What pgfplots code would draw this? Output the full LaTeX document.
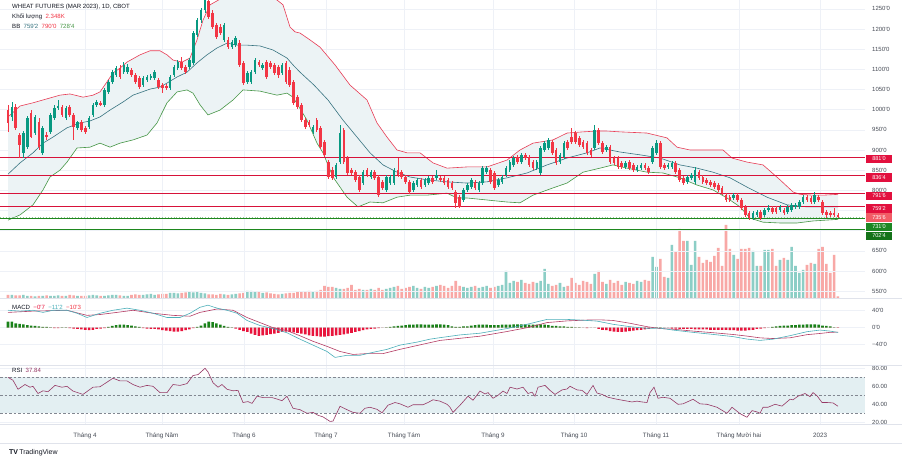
\documentclass[border=0pt]{standalone}
\usepackage{pgfplots}
\pgfplotsset{compat=1.18}
\usepackage{pgfplotstable}
\usepackage{fontspec}
\setmainfont{Liberation Sans}[Ligatures=TeXOff]
\definecolor{upc}{RGB}{8,153,129}
\definecolor{dnc}{RGB}{242,54,69}
\definecolor{volup}{RGB}{140,206,198}
\definecolor{voldn}{RGB}{248,168,166}
\definecolor{bbup}{RGB}{232,60,85}
\definecolor{bbmid}{RGB}{55,115,128}
\definecolor{bblo}{RGB}{70,150,70}
\definecolor{bbfill}{RGB}{236,243,245}
\definecolor{lvred}{RGB}{215,18,58}
\definecolor{lvgreen}{RGB}{30,135,30}
\definecolor{gridc}{RGB}{238,241,247}
\definecolor{txt}{RGB}{19,23,34}
\definecolor{axtxt}{RGB}{70,75,85}
\definecolor{macdl}{RGB}{75,175,185}
\definecolor{sigl}{RGB}{180,60,100}
\definecolor{histg}{RGB}{25,130,25}
\definecolor{histr}{RGB}{232,20,60}
\definecolor{rsil}{RGB}{150,55,100}
\definecolor{rsifill}{RGB}{227,239,242}
\definecolor{rsidash}{RGB}{130,135,145}
\definecolor{sepc}{RGB}{224,227,235}
\definecolor{boxred}{RGB}{226,16,62}
\definecolor{boxlred}{RGB}{242,92,102}
\definecolor{boxgreen}{RGB}{28,135,35}
\definecolor{boxdgreen}{RGB}{20,115,25}
\newcommand{\sz}{\fontsize{6}{7}\selectfont}
\pgfplotsset{
  base/.style={scale only axis, width=865bp, xmin=0, xmax=865, anchor=south west,
    axis line style={draw=none}, tick style={draw=none},
    xtick={85,162,244,326,404,493,574,656,739,820},
    grid=major, grid style={gridc, line width=0.5bp},
    yticklabel pos=right,
    yticklabel style={anchor=west, inner sep=0pt, xshift=7bp, font=\sz, text=axtxt},
    xticklabel style={font=\fontsize{6.3}{7}\selectfont, text=axtxt, anchor=north, inner sep=0pt, yshift=-8.5bp}},
  candle/.style={draw=none, mark=none, forget plot, error bars/.cd, y dir=both, y explicit, error mark=none, error bar style={draw=#1, solid}},
  level/.style={draw=#1, color=#1, line width=1bp, forget plot},
}
\pgfplotstableread{
o h l c v u
999 1012 945 967 4.5 0
982 1019 972 1007 4.5 1
1007 1014 950 955 3.8 0
937 942 880 912 3.8 0
893 947 880 942 4.5 1
907 984 902 979 3 1
992 999 930 932 3 0
942 987 937 982 2.3 1
969 979 900 907 3 0
893 960 888 955 3 1
937 945 925 932 3.8 0
945 992 940 987 3 1
979 1012 974 1004 3 1
1004 1024 999 1009 3.8 1
1007 1012 982 987 3 0
979 1009 974 1004 3 1
1007 1012 982 987 4.5 0
987 992 925 957 3.8 0
955 972 950 969 3 1
969 974 945 950 3 0
955 960 940 945 3 0
957 984 952 979 3.8 1
987 1017 982 1012 4.5 1
1012 1024 1007 1019 3.8 1
1017 1022 1009 1012 3 0
1012 1054 1007 1049 3 1
1044 1074 1039 1069 3.8 1
1069 1098 1064 1093 4.5 1
1086 1108 1081 1103 4.5 1
1103 1111 1076 1081 3.8 0
1093 1118 1088 1111 3 1
1093 1113 1088 1106 3 1
1098 1103 1081 1086 4.5 0
1086 1091 1064 1069 5.3 0
1079 1084 1051 1056 4.5 0
1061 1084 1056 1079 4.5 1
1074 1086 1069 1081 5.3 1
1079 1089 1074 1084 6 1
1079 1098 1074 1093 4.5 1
1074 1079 1051 1056 5.3 0
1061 1066 1041 1054 6 0
1059 1064 1049 1054 6 0
1054 1086 1049 1081 7.5 1
1086 1111 1081 1106 7.5 1
1103 1123 1098 1118 6.8 1
1118 1131 1098 1103 7.5 0
1106 1111 1088 1093 8.3 0
1106 1128 1101 1123 9 1
1116 1195 1111 1190 8.3 1
1185 1227 1180 1222 9 1
1222 1252 1215 1247 7.5 1
1247 1282 1240 1272 6.8 1
1270 1280 1225 1230 5.3 0
1240 1247 1200 1205 5.3 0
1210 1215 1175 1180 4.5 0
1205 1212 1185 1190 6 0
1173 1215 1168 1210 5.3 1
1173 1180 1150 1155 4.5 0
1155 1173 1150 1168 5.3 1
1160 1183 1155 1178 6 1
1165 1173 1106 1111 6.8 0
1116 1121 1061 1066 7.5 0
1069 1096 1064 1091 10.5 1
1069 1098 1064 1093 10.5 1
1093 1128 1088 1123 9 1
1118 1123 1106 1111 9 0
1103 1116 1098 1111 7.5 1
1118 1123 1076 1081 8.3 0
1116 1121 1101 1106 6.8 0
1111 1116 1086 1091 6 0
1106 1111 1079 1086 5.3 0
1091 1116 1086 1111 6 1
1116 1121 1064 1069 6.8 0
1098 1106 1056 1061 7.5 0
1069 1074 1012 1017 7.5 0
1031 1036 1002 1007 9 0
1012 1017 969 974 9.8 0
974 979 952 957 9 0
969 974 957 962 10.5 0
945 962 940 957 9 1
974 979 945 950 10.5 0
955 960 902 907 12 0
920 925 883 888 18 0
870 875 828 833 16.5 0
850 858 826 831 16.5 0
833 868 828 863 15 1
870 962 865 942 13.5 1
950 955 865 870 13.5 0
880 885 838 843 15 0
850 855 838 843 19.5 0
845 850 821 826 12 0
833 838 796 801 13.5 0
818 850 813 845 12 1
850 855 833 838 12 0
833 850 828 845 13.5 1
845 850 826 831 12 0
833 838 783 788 15 0
821 826 801 806 12 0
801 838 796 833 13.5 1
818 838 813 833 15 1
818 855 813 850 16.5 1
850 880 833 838 18 0
845 850 828 833 13.5 0
833 838 816 821 15 0
821 826 791 796 16.5 0
801 823 796 818 18 1
813 831 808 826 15 1
826 831 803 808 13.5 0
813 831 808 826 16.5 1
818 835 813 831 15 1
831 835 816 821 16.5 0
831 850 826 838 18 1
831 835 821 826 19.5 0
831 835 813 818 18 0
826 831 803 808 15 0
818 823 801 806 18 0
796 801 756 769 25.5 0
783 788 756 759 18 0
776 806 771 801 16.5 1
801 818 796 813 15 1
808 831 803 826 16.5 1
821 826 801 806 18 0
801 823 796 818 15 1
818 860 813 855 16.5 1
845 860 840 855 18 1
850 855 816 821 15 0
843 848 801 806 16.5 0
813 831 808 826 18 1
821 838 816 833 19.5 1
838 860 833 855 40.5 1
850 875 845 870 22.5 1
863 885 858 880 25.5 1
883 888 865 870 24 0
870 893 865 888 27 1
888 893 875 880 22.5 0
883 888 858 863 21 0
870 875 850 855 24 0
855 875 850 870 22.5 1
843 910 838 905 25.5 1
900 922 895 917 43.5 1
905 930 900 925 21 1
920 925 888 893 18 0
900 905 863 868 19.5 0
870 893 865 888 22.5 1
883 922 878 917 16.5 1
920 925 900 905 18 0
932 955 915 920 30 0
942 947 915 920 22.5 0
930 935 907 912 19.5 0
920 925 902 907 25.5 0
917 922 888 893 24 0
900 905 883 888 21 0
905 962 900 950 36 1
950 955 912 917 40.5 0
917 922 890 895 24 0
900 912 895 907 21 1
907 912 865 870 27 0
880 885 863 868 22.5 0
880 885 853 858 25.5 0
868 873 853 858 19.5 0
858 873 853 868 24 1
870 875 850 855 22.5 0
863 868 845 850 21 0
850 863 845 858 25.5 1
855 868 850 863 24 1
863 868 850 855 27 0
855 860 840 845 25.5 0
870 910 865 905 61.5 1
893 925 888 917 46.5 1
917 922 853 858 58.5 0
863 868 850 855 31.5 0
858 868 853 863 30 1
858 873 853 868 79.5 1
868 873 840 845 69 0
850 855 821 826 103.5 0
831 835 813 818 85.5 0
821 838 816 833 85.5 1
831 843 826 838 49.5 1
821 858 816 850 85.5 1
845 850 826 831 61.5 0
833 838 816 821 52.5 0
826 831 813 818 57 0
821 826 808 813 54 0
818 823 803 808 63 0
813 818 796 801 75 0
806 811 788 793 48 0
788 793 771 776 109.5 0
783 788 771 776 73.5 0
781 793 776 788 64.5 1
788 793 771 776 58.5 0
776 781 751 756 73.5 0
759 764 734 739 73.5 0
744 749 726 731 75 0
731 749 726 744 70.5 1
739 751 734 746 48 1
746 751 726 731 48 0
739 756 734 751 72 1
751 764 746 756 72 1
756 761 741 746 73.5 0
756 761 741 746 48 0
751 764 746 759 57 1
751 756 739 744 60 0
746 764 741 759 57 1
751 769 746 764 76.5 1
759 769 754 764 48 1
759 776 754 771 37.5 1
771 788 766 783 42 1
783 788 771 776 49.5 0
781 786 766 771 52.5 0
771 796 766 788 51 1
783 788 771 776 73.5 0
771 776 739 744 76.5 0
746 751 731 739 51 0
744 749 734 739 37.5 0
744 756 734 739 64.5 0
739 744 731 735.75 2.348 0
}\candles
\pgfplotstableread{
i h
1 14
2 14
3 10
4 9
5 8
6 6
7 5
8 4
9 3
10 2
11 2
12 1
13 -1
14 -1
15 1
16 1
17 -1
18 -2
19 -3
20 -4
21 -5
22 -6
23 -5
24 -3
25 -2
26 -1
27 2
28 4
29 6
30 7
31 7
32 6
33 5
34 3
35 2
36 -1
37 -2
38 -3
39 -3
40 -4
41 -6
42 -7
43 -8
44 -9
45 -9
46 -8
47 -6
48 -4
49 -1
50 2
51 5
52 10
53 14
54 13
55 10
56 7
57 4
58 2
59 1
60 -2
61 -5
62 -8
63 -10
64 -14
65 -17
66 -19
67 -18
68 -17
69 -15
70 -14
71 -12
72 -10
73 -9
74 -10
75 -11
76 -12
77 -14
78 -16
79 -18
80 -19
81 -20
82 -21
83 -21
84 -20
85 -19
86 -18
87 -17
88 -16
89 -14
90 -12
91 -10
92 -8
93 -6
94 -4
95 -3
96 -2
97 -1
98 0
99 1
100 2
101 3
102 4
103 5
104 6
105 7
106 7
107 8
108 8
109 7
110 7
111 7
112 8
113 8
114 7
115 6
116 3
117 2
118 2
119 3
120 3
121 5
122 6
123 7
124 7
125 7
126 6
127 6
128 6
129 7
130 7
131 7
132 8
133 8
134 8
135 8
136 7
137 7
138 7
139 8
140 7
141 6
142 4
143 4
144 3
145 3
146 2
147 2
148 1
149 1
150 0
151 -1
152 0
153 0
154 -3
155 -5
156 -6
157 -8
158 -9
159 -10
160 -10
161 -9
162 -8
163 -7
164 -6
165 -5
166 -4
167 -3
168 -1
169 1
170 1
171 0
172 0
173 -2
174 -2
175 -3
176 -3
177 -3
178 -3
179 -4
180 -4
181 -4
182 -4
183 -5
184 -5
185 -5
186 -5
187 -5
188 -6
189 -6
190 -7
191 -7
192 -7
193 -6
194 -5
195 -3
196 -2
197 -1
198 0
199 2
200 3
201 4
202 5
203 5
204 6
205 6
206 7
207 7
208 8
209 8
210 8
211 7
212 5
213 4
214 3
215 1
216 -0.7
}\hist
\pgfplotstableread{
x y
8 982
20 1009
33 1017
50 1029
60 1036
70 1039
83 1031
93 1036
100 1044
107 1069
113 1091
120 1103
127 1118
140 1136
150 1146
160 1146
167 1136
173 1123
182 1118
190 1128
197 1173
203 1222
210 1260
220 1274
235 1287
250 1292
265 1284
277 1272
283 1260
290 1205
295 1193
300 1190
310 1173
320 1155
335 1111
350 1061
367 1024
377 967
387 932
397 900
407 893
420 893
433 868
447 855
467 858
487 858
507 875
520 900
533 917
553 925
567 942
583 945
597 947
607 947
620 945
647 942
667 930
677 907
690 900
713 900
723 900
732 880
747 870
763 863
780 826
793 796
800 790
813 788
823 788
838 790
}\bbU
\pgfplotstableread{
x y
8 982
20 1009
33 1017
50 1029
60 1036
70 1039
83 1031
93 1036
100 1044
107 1069
113 1091
120 1103
127 1118
140 1136
150 1146
160 1146
167 1136
173 1123
182 1118
190 1128
197 1173
203 1222
210 1260
220 1274
235 1287
250 1292
265 1284
277 1272
283 1260
290 1205
295 1193
300 1190
310 1173
320 1155
335 1111
350 1061
367 1024
377 967
387 932
397 900
407 893
420 893
433 868
447 855
467 858
487 858
507 875
520 900
533 917
553 925
567 942
583 945
597 947
607 947
620 945
647 942
667 930
677 907
690 900
713 900
723 900
732 880
747 870
763 863
780 826
793 796
800 790
813 788
823 788
838 790
838 728
813 724
797 719
780 719
763 721
750 731
740 759
727 781
713 801
697 813
680 831
663 843
647 845
627 855
613 863
600 855
583 845
567 818
553 806
533 788
520 769
507 771
487 776
467 781
457 781
447 793
427 788
410 788
397 783
383 769
370 771
358 759
347 783
333 833
323 893
317 917
307 974
293 1031
287 1041
277 1036
260 1046
243 1049
233 1024
220 999
208 987
200 1012
193 1041
187 1049
177 1044
167 1017
157 967
147 937
133 925
120 917
110 907
100 917
90 907
77 905
67 870
60 850
50 833
43 801
33 764
20 739
8 726
}\bbBand
\pgfplotstableread{
x y
8 840
20 868
33 893
43 917
53 932
67 955
80 967
90 972
100 982
110 999
123 1019
133 1036
150 1051
160 1056
167 1066
177 1081
187 1093
197 1116
207 1136
217 1153
227 1165
237 1160
247 1160
260 1158
273 1148
287 1128
293 1111
300 1093
314 1061
328 1024
343 974
357 932
370 893
383 863
397 845
410 833
427 826
447 821
467 818
487 821
507 831
527 843
547 863
567 880
587 893
600 905
620 895
640 888
660 880
680 863
697 855
713 845
730 831
747 808
767 783
787 764
807 759
820 759
838 759
}\bbM
\pgfplotstableread{
x y
8 726
20 739
33 764
43 801
50 833
60 850
67 870
77 905
90 907
100 917
110 907
120 917
133 925
147 937
157 967
167 1017
177 1044
187 1049
193 1041
200 1012
208 987
220 999
233 1024
243 1049
260 1046
277 1036
287 1041
293 1031
307 974
317 917
323 893
333 833
347 783
358 759
370 771
383 769
397 783
410 788
427 788
447 793
457 781
467 781
487 776
507 771
520 769
533 788
553 806
567 818
583 845
600 855
613 863
627 855
647 845
663 843
680 831
697 813
713 801
727 781
740 759
750 731
763 721
780 719
797 719
813 724
838 728
}\bbL
\pgfplotstableread{
x y
8 41
20 39
33 41
43 36
53 41
67 41
77 34
87 24
100 34
113 41
127 46
140 41
153 34
167 24
180 24
190 34
200 48
208 53
217 46
227 41
237 34
247 17
260 5
273 -2
287 -12
300 -27
313 -41
327 -56
335 -70
347 -65
360 -65
373 -58
387 -51
400 -41
417 -34
430 -27
440 -23.5
460 -17
480 -13
507 -2
527 8
547 19.5
567 19.5
580 18
597 15.5
613 8
630 2.4
647 -1.6
660 -1
673 -5.6
693 -11
713 -15.8
733 -21
747 -26.8
760 -29.9
773 -27
790 -18.8
807 -9.4
820 -5.6
830 -8
838 -11.2
}\macd
\pgfplotstableread{
x y
8 36
33 39
67 41
87 29
100 31
117 36
133 41
153 34
173 29
190 27
200 36
217 44
233 41
247 24
260 12
273 0
287 -7
300 -19
313 -32
327 -44
340 -56
353 -63
367 -61
383 -61
400 -51
417 -42
440 -30
460 -25
480 -20
507 -9
527 0
547 12
567 16
587 18
600 18.5
613 17
630 10.4
647 2.4
660 -2
673 -3.6
693 -8
713 -11.8
733 -16
747 -19.8
760 -23.9
773 -25.5
790 -23.8
807 -16.4
820 -13.6
830 -11
838 -10.3
}\signal
\pgfplotstableread{
x y
8 70
13 66.7
18 56.7
25 62
30 59
33 60
38 52
43 55
48 54
55 61
62 59
67 60
73 54.7
83 51
93 59
100 59.5
113 69
120 66
127 66
133 62
140 59
147 61
153 60
160 53
167 53
173 62
180 61
187 63
193 72
198 73
205 80
208 76
213 64
218 59
222 62
227 56.7
233 55
238 55.5
243 42
248 43
252 41
257 49
263 47.5
272 47.5
278 45.5
282 44
287 49
293 35.6
300 34
307 30
313 31
318 27.8
323 26
330 21
333 21.3
340 37.8
347 34
353 31
360 30
365 35.6
370 36.7
377 34.4
382 30.5
388 39
395 42
400 40.5
408 36.7
413 39.5
423 39.5
428 42
433 45
440 43.5
447 40
450 36.7
453 31
460 39
468 49
473 44.5
480 54.7
485 51.5
488 53
493 46.7
498 50
503 54.7
507 52
510 59
517 57
523 59
528 52
532 53.5
535 49
538 59
545 61
550 55.5
555 51
562 56
567 57
570 60
577 56
582 55.5
587 51
593 61
597 52.5
602 51
608 47.8
617 45.6
623 44.4
632 42.6
637 43.5
642 42.6
647 42
650 53
654 59
658 46.7
663 47.8
670 46.7
678 40
683 40.5
693 45.6
700 40.5
707 40
717 36.7
727 30
732 36.7
740 29.6
747 25.6
752 33
757 31.5
760 30
763 36.7
768 36.7
775 40
782 38
790 45.6
793 45
798 49
805 52
810 48.5
813 53
817 49.5
822 42
827 42
833 41.5
838 37.84
}\rsi
\begin{document}
\begin{tikzpicture}[x=1bp,y=1bp]
\fill[white] (0,0) rectangle (902,467);
\useasboundingbox (0,0) rectangle (902,467);
% volume (overlay, behind price)
\begin{axis}[scale only axis, width=865bp, xmin=0, xmax=865, anchor=south west,
  at={(0bp,169bp)}, height=298bp, ymin=0, ymax=447,
  axis line style={draw=none}, tick style={draw=none}, xtick=\empty, ytick=\empty]
\addplot[ybar, bar width=2.6bp, bar shift=0pt, fill=volup, draw=none] table[x expr={8+3.86*\coordindex}, y expr={ifthenelse(\thisrow{u}>0.5,\thisrow{v},0)}] {\candles};
\addplot[ybar, bar width=2.6bp, bar shift=0pt, fill=voldn, draw=none] table[x expr={8+3.86*\coordindex}, y expr={ifthenelse(\thisrow{u}<0.5,\thisrow{v},0)}] {\candles};
\end{axis}
% price
\begin{axis}[base, at={(0bp,169bp)}, height=298bp, ymin=533, ymax=1272,
  ytick={550,600,650,800,850,900,950,1000,1050,1100,1150,1200,1250},
  yticklabels={550'0,600'0,650'0,800'0,850'0,900'0,950'0,1000'0,1050'0,1100'0,1150'0,1200'0,1250'0},
  extra y ticks={700,750}, extra y tick labels={},
  xticklabels={}]
\addplot[fill=bbfill, draw=none, forget plot] table[x=x,y=y] {\bbBand};
\addplot[bbup, line width=0.6bp] table[x=x,y=y] {\bbU};
\addplot[bblo, line width=0.6bp] table[x=x,y=y] {\bbL};
\addplot[bbmid, line width=0.6bp] table[x=x,y=y] {\bbM};
\addplot[level=lvred] coordinates {(0,881) (865,881)};
\addplot[level=lvred] coordinates {(0,836.5) (865,836.5)};
\addplot[level=lvred] coordinates {(0,791.75) (865,791.75)};
\addplot[level=lvred] coordinates {(0,759.25) (865,759.25)};
\addplot[level=lvgreen] coordinates {(0,731) (865,731)};
\addplot[draw={rgb,255:red,150;green,200;blue,150}, dotted, line width=0.9bp, forget plot] coordinates {(0,733) (865,733)};
\addplot[level=lvgreen] coordinates {(0,702.5) (865,702.5)};
% wicks
\addplot[candle=upc, error bar style={line width=0.7bp}] table[x expr={8+3.86*\coordindex}, y expr={(\thisrow{h}+\thisrow{l})/2}, y error expr={ifthenelse(\thisrow{u}>0.5,(\thisrow{h}-\thisrow{l})/2,0)}] {\candles};
\addplot[candle=dnc, error bar style={line width=0.7bp}] table[x expr={8+3.86*\coordindex}, y expr={(\thisrow{h}+\thisrow{l})/2}, y error expr={ifthenelse(\thisrow{u}<0.5,(\thisrow{h}-\thisrow{l})/2,0)}] {\candles};
% bodies
\addplot[candle=upc, error bar style={line width=2.6bp}] table[x expr={8+3.86*\coordindex}, y expr={(\thisrow{o}+\thisrow{c})/2}, y error expr={ifthenelse(\thisrow{u}>0.5,max(abs(\thisrow{o}-\thisrow{c})/2,0.7),0)}] {\candles};
\addplot[candle=dnc, error bar style={line width=2.6bp}] table[x expr={8+3.86*\coordindex}, y expr={(\thisrow{o}+\thisrow{c})/2}, y error expr={ifthenelse(\thisrow{u}<0.5,max(abs(\thisrow{o}-\thisrow{c})/2,0.7),0)}] {\candles};
\end{axis}
% MACD
\begin{axis}[base, at={(0bp,102bp)}, height=67bp, ymin=-87.8, ymax=69.9,
  ytick={-40,0,40}, yticklabels={−40'0,0'0,40'0}, xticklabels={}]
\addplot[ybar, bar width=2.6bp, bar shift=0pt, fill=histg, draw=none] table[x expr={8+3.86*\coordindex}, y expr={max(\thisrow{h},0)}] {\hist};
\addplot[ybar, bar width=2.6bp, bar shift=0pt, fill=histr, draw=none] table[x expr={8+3.86*\coordindex}, y expr={min(\thisrow{h},0)}] {\hist};
\addplot[sigl, line width=0.6bp] table[x=x,y=y] {\signal};
\addplot[macdl, line width=0.6bp] table[x=x,y=y] {\macd};
\end{axis}
% RSI
\begin{axis}[base, at={(0bp,43bp)}, height=59bp, ymin=18.1, ymax=83.7,
  ytick={20,40,60,80}, yticklabels={20.00,40.00,60.00,80.00},
  xticklabels={Tháng 4,Tháng Năm,Tháng 6,Tháng 7,Tháng Tám,Tháng 9,Tháng 10,Tháng 11,Tháng Mười hai,2023}]
\addplot[fill=rsifill, draw=none] coordinates {(0,30) (865,30) (865,70) (0,70)};
\addplot[rsidash, dash pattern=on 2.5bp off 2bp, line width=0.5bp] coordinates {(0,70) (865,70)};
\addplot[rsidash, dash pattern=on 2.5bp off 2bp, line width=0.5bp] coordinates {(0,50) (865,50)};
\addplot[rsidash, dash pattern=on 2.5bp off 2bp, line width=0.5bp] coordinates {(0,30) (865,30)};
\addplot[rsil, line width=0.6bp] table[x=x,y=y] {\rsi};
\end{axis}
% separators
\draw[sepc, line width=0.6bp] (0,169) -- (902,169);
\draw[sepc, line width=0.6bp] (0,102) -- (902,102);
\draw[sepc, line width=0.6bp] (0,43) -- (902,43);
\draw[sepc, line width=0.6bp] (0,24) -- (902,24);
% price labels
\tikzset{lbl/.style={minimum width=26bp, minimum height=8.8bp, inner sep=0pt, text=white, font=\fontsize{5.6}{6}\selectfont}}
\node[lbl, fill=boxred] at (879,467-159) {881'0};
\node[lbl, fill=boxred] at (879,467-177.5) {836'4};
\node[lbl, fill=boxred] at (879,467-196) {791'6};
\node[lbl, fill=boxred] at (879,467-208.5) {759'2};
\node[lbl, fill=boxlred] at (879,467-217.5) {735'6};
\node[lbl, fill=boxgreen] at (879,467-227) {731'0};
\node[lbl, fill=boxdgreen] at (879,467-236) {702'4};
% legends
\node[anchor=west, inner sep=0pt, font=\fontsize{6.1}{7}\selectfont, text=txt] at (12,467-6.7) {WHEAT FUTURES (MAR 2023), 1D, CBOT};
\node[anchor=west, inner sep=0pt, font=\fontsize{6.1}{7}\selectfont, text=txt] at (12,467-16.7) {Khối lượng\ \ \textcolor{dnc}{2.348K}};
\node[anchor=west, inner sep=0pt, font=\fontsize{6.1}{7}\selectfont, text=txt] at (12,467-26.7) {BB\ \ \textcolor{bbmid}{759'2}\ \ \textcolor{dnc}{790'0}\ \ \textcolor{bblo}{728'4}};
\node[anchor=west, inner sep=0pt, font=\fontsize{6.1}{7}\selectfont, text=txt] at (12,467-307.7) {MACD\ \ \textcolor{histr}{−0'7}\ \ \textcolor{macdl}{−11'2}\ \ \textcolor{dnc}{−10'3}};
\node[anchor=west, inner sep=0pt, font=\fontsize{6.1}{7}\selectfont, text=txt] at (12,467-370) {RSI\ \ \textcolor{rsil}{37.84}};
\node[anchor=west, inner sep=0pt, font=\fontsize{7}{8}\selectfont, text=txt] at (9,467-453) {\textbf{TV}\,TradingView};
\end{tikzpicture}
\end{document}
